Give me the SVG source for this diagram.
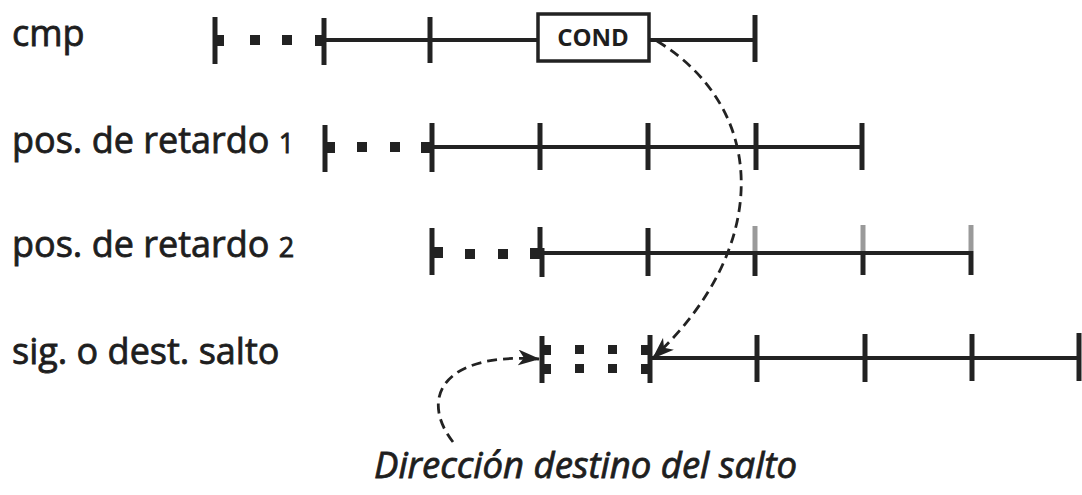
<svg xmlns="http://www.w3.org/2000/svg" width="1082" height="495" viewBox="0 0 1082 495">
  <style>
    .lbl { font-family: "Open Sans", "Noto Sans", sans-serif; font-size: 36px; fill: #1e1e1e; stroke: #1e1e1e; stroke-width: 0.8; }
    .num { font-size: 27px; }
    .note { font-family: "Open Sans", "Noto Sans", sans-serif; font-size: 36.5px; font-style: italic; fill: #1e1e1e; stroke: #1e1e1e; stroke-width: 0.8; }
    .cond { font-family: "Open Sans", "Noto Sans", sans-serif; font-size: 24px; font-weight: bold; fill: #1e1e1e; }
    .ln { stroke: #222; stroke-width: 4; fill: none; }
    .tk { stroke: #222; stroke-width: 5; fill: none; }
    .tkg { stroke: #9a9a9a; stroke-width: 5; fill: none; }
    .blk { fill: #222; }
    .dash { stroke: #222; stroke-width: 2.8; fill: none; stroke-dasharray: 10 6; }
  </style>
  <defs>
    <marker id="arrow" viewBox="0 0 22 16" refX="21" refY="8" markerWidth="22" markerHeight="16" markerUnits="userSpaceOnUse" orient="auto">
      <path d="M0,0 L22,8 L0,16 L6,8 Z" fill="#222"/>
    </marker>
  </defs>

  <!-- stage row: cmp -->
  <g id="row-cmp">
    <text class="lbl" x="12" y="46">cmp</text>
    <line class="tk" x1="215" y1="17" x2="215" y2="64"/>
    <rect class="blk" x="217" y="35" width="7" height="11"/>
    <rect class="blk" x="250" y="35" width="10" height="10"/>
    <rect class="blk" x="282" y="35" width="10" height="10"/>
    <rect class="blk" x="315" y="35" width="8" height="11"/>
    <line class="tk" x1="324" y1="18" x2="324" y2="65"/>
    <line class="ln" x1="324" y1="40" x2="537" y2="40"/>
    <line class="tk" x1="430" y1="17" x2="430" y2="63"/>
    <line class="ln" x1="650" y1="40" x2="755" y2="40"/>
    <line class="tk" x1="755" y1="15" x2="755" y2="62"/>
  </g>

  <g id="cond-box">
    <rect x="538" y="14" width="111" height="47" fill="#fff" stroke="#222" stroke-width="3.5"/>
    <text class="cond" x="593" y="46" text-anchor="middle">COND</text>
  </g>

  <!-- stage row: delay slot 1 -->
  <g id="row-retardo-1">
    <text class="lbl" x="12" y="153">pos. de retardo <tspan class="num">1</tspan></text>
    <line class="tk" x1="325" y1="125" x2="325" y2="172"/>
    <rect class="blk" x="327" y="142" width="8" height="11"/>
    <rect class="blk" x="357" y="142" width="10" height="10"/>
    <rect class="blk" x="390" y="142" width="10" height="10"/>
    <rect class="blk" x="421" y="142" width="9" height="11"/>
    <line class="tk" x1="432" y1="123" x2="432" y2="172"/>
    <line class="ln" x1="432" y1="147" x2="862" y2="147"/>
    <line class="tk" x1="540" y1="123" x2="540" y2="170"/>
    <line class="tk" x1="648" y1="123" x2="648" y2="170"/>
    <line class="tk" x1="756" y1="123" x2="756" y2="170"/>
    <line class="tk" x1="862" y1="123" x2="862" y2="170"/>
  </g>

  <!-- stage row: delay slot 2 -->
  <g id="row-retardo-2">
    <text class="lbl" x="12" y="257">pos. de retardo <tspan class="num">2</tspan></text>
    <line class="tk" x1="432" y1="228" x2="432" y2="275"/>
    <rect class="blk" x="434" y="247" width="9" height="11"/>
    <rect class="blk" x="465" y="249" width="10" height="10"/>
    <rect class="blk" x="498" y="249" width="10" height="10"/>
    <rect class="blk" x="530" y="248" width="10" height="11"/>
    <line class="tk" x1="540" y1="227" x2="540" y2="248"/>
    <line class="tk" x1="542" y1="248" x2="542" y2="277"/>
    <line class="ln" x1="542" y1="253" x2="970" y2="253"/>
    <line class="tk" x1="648" y1="228" x2="648" y2="276"/>
    <line class="tkg" x1="755" y1="226" x2="755" y2="251"/>
    <line class="tk" x1="755" y1="251" x2="755" y2="276"/>
    <line class="tkg" x1="863" y1="225" x2="863" y2="251"/>
    <line class="tk" x1="863" y1="251" x2="863" y2="275"/>
    <line class="tkg" x1="971" y1="225" x2="971" y2="251"/>
    <line class="tk" x1="971" y1="251" x2="971" y2="275"/>
  </g>

  <!-- stage row: next or branch target -->
  <g id="row-destino">
    <text class="lbl" x="12" y="364">sig. o dest. salto</text>
    <line class="tk" x1="542" y1="336" x2="542" y2="383"/>
    <rect class="blk" x="544" y="345" width="7" height="10"/>
    <rect class="blk" x="544" y="364" width="7" height="10"/>
    <rect class="blk" x="575" y="345" width="9" height="9"/>
    <rect class="blk" x="575" y="364" width="9" height="9"/>
    <rect class="blk" x="608" y="345" width="9" height="9"/>
    <rect class="blk" x="608" y="364" width="9" height="9"/>
    <rect class="blk" x="641" y="345" width="7" height="10"/>
    <rect class="blk" x="641" y="364" width="7" height="10"/>
    <line class="tk" x1="650" y1="335" x2="650" y2="383"/>
    <line class="ln" x1="650" y1="358" x2="1079" y2="358"/>
    <line class="tk" x1="757" y1="335" x2="757" y2="382"/>
    <line class="tk" x1="865" y1="334" x2="865" y2="382"/>
    <line class="tk" x1="972" y1="334" x2="972" y2="381"/>
    <line class="tk" x1="1079" y1="333" x2="1079" y2="381"/>
  </g>

  <g id="nota">
    <text class="note" x="374" y="478">Dirección destino del salto</text>
  </g>

  <!-- dashed arrows -->
  <g id="connectors">
    <path class="dash" d="M657,41 C770,110 770,250 653,358" marker-end="url(#arrow)"/>
    <path class="dash" d="M453,442 C420,400 440,352 539,359" marker-end="url(#arrow)"/>
  </g>
</svg>
